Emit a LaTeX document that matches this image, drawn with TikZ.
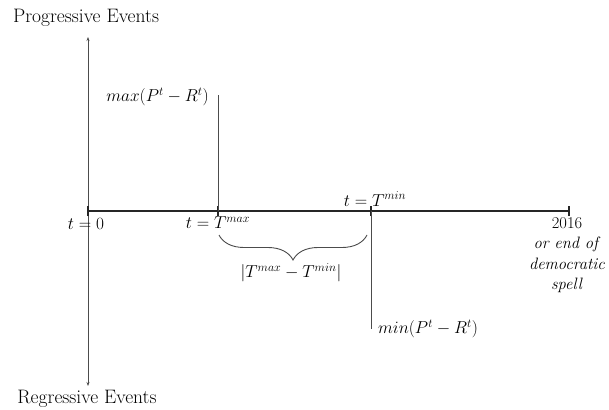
\documentclass[tikz,border=0pt]{standalone}
\usetikzlibrary{arrows.meta,decorations.pathreplacing}
\begin{document}
\begin{tikzpicture}[x=1pt,y=-1pt,
  lbl/.style={inner sep=0pt,font=\fontsize{16.5}{19}\selectfont},
  biglbl/.style={inner sep=0pt,font=\fontsize{19.5}{22}\selectfont},
  endlbl/.style={inner sep=0pt,font=\fontsize{16.5}{19.5}\selectfont},
  axisline/.style={line width=1.5pt,black!85},
  thinline/.style={line width=0.9pt,black!70},
  tick/.style={line width=1.2pt,black!85}]
\useasboundingbox (0,0) rectangle (609,409);
% vertical axis
\coordinate (vtop) at (88,37);
\coordinate (vbot) at (88,386);
\draw[thinline,{Stealth[length=4pt,width=3pt]}-{Stealth[length=4pt,width=3pt]}] (vtop) -- (vbot);
\node[biglbl] (prog) at (86,18) {Progressive Events};
\node[biglbl] (regr) at (87,399) {Regressive Events};
% horizontal axis
\coordinate (t0) at (88,211);
\coordinate (tmax) at (218,211);
\coordinate (tmin) at (371,211);
\coordinate (tend) at (569,211);
\draw[axisline] (t0) -- (tend);
\foreach \p in {t0,tmax,tmin,tend}
  \draw[tick] ([yshift=-5pt]\p) -- ([yshift=5pt]\p);
% max line
\coordinate (maxtop) at (218,95);
\draw[thinline] (tmax) -- (maxtop);
\node[lbl,anchor=east] (maxl) at (209,97) {$max(P^t-R^t)$};
% min line
\coordinate (minbot) at (371,329);
\draw[thinline] (tmin) -- (minbot);
\node[lbl,anchor=west] (minl) at (378,329) {$min(P^t-R^t)$};
% labels
\node[lbl] (l0) at (86,224) {$t=0$};
\node[lbl] (lmax) at (218,223) {$t=T^{max}$};
\node[lbl] (lmin) at (375,199) {$t=T^{min}$};
\node[endlbl,align=center,anchor=north] (lend) at (567,217)
  {2016\\[1pt] \textit{or end of}\\[1pt] \textit{democratic}\\[1pt] \textit{spell}};
% brace
\coordinate (b1) at (219,235);
\coordinate (b2) at (367,235);
\draw[thinline,decorate,decoration={brace,amplitude=25pt,aspect=0.5}] (b2) -- (b1);
\node[lbl] (bl) at (291,273) {$|T^{max}-T^{min}|$};
\end{tikzpicture}
\end{document}
